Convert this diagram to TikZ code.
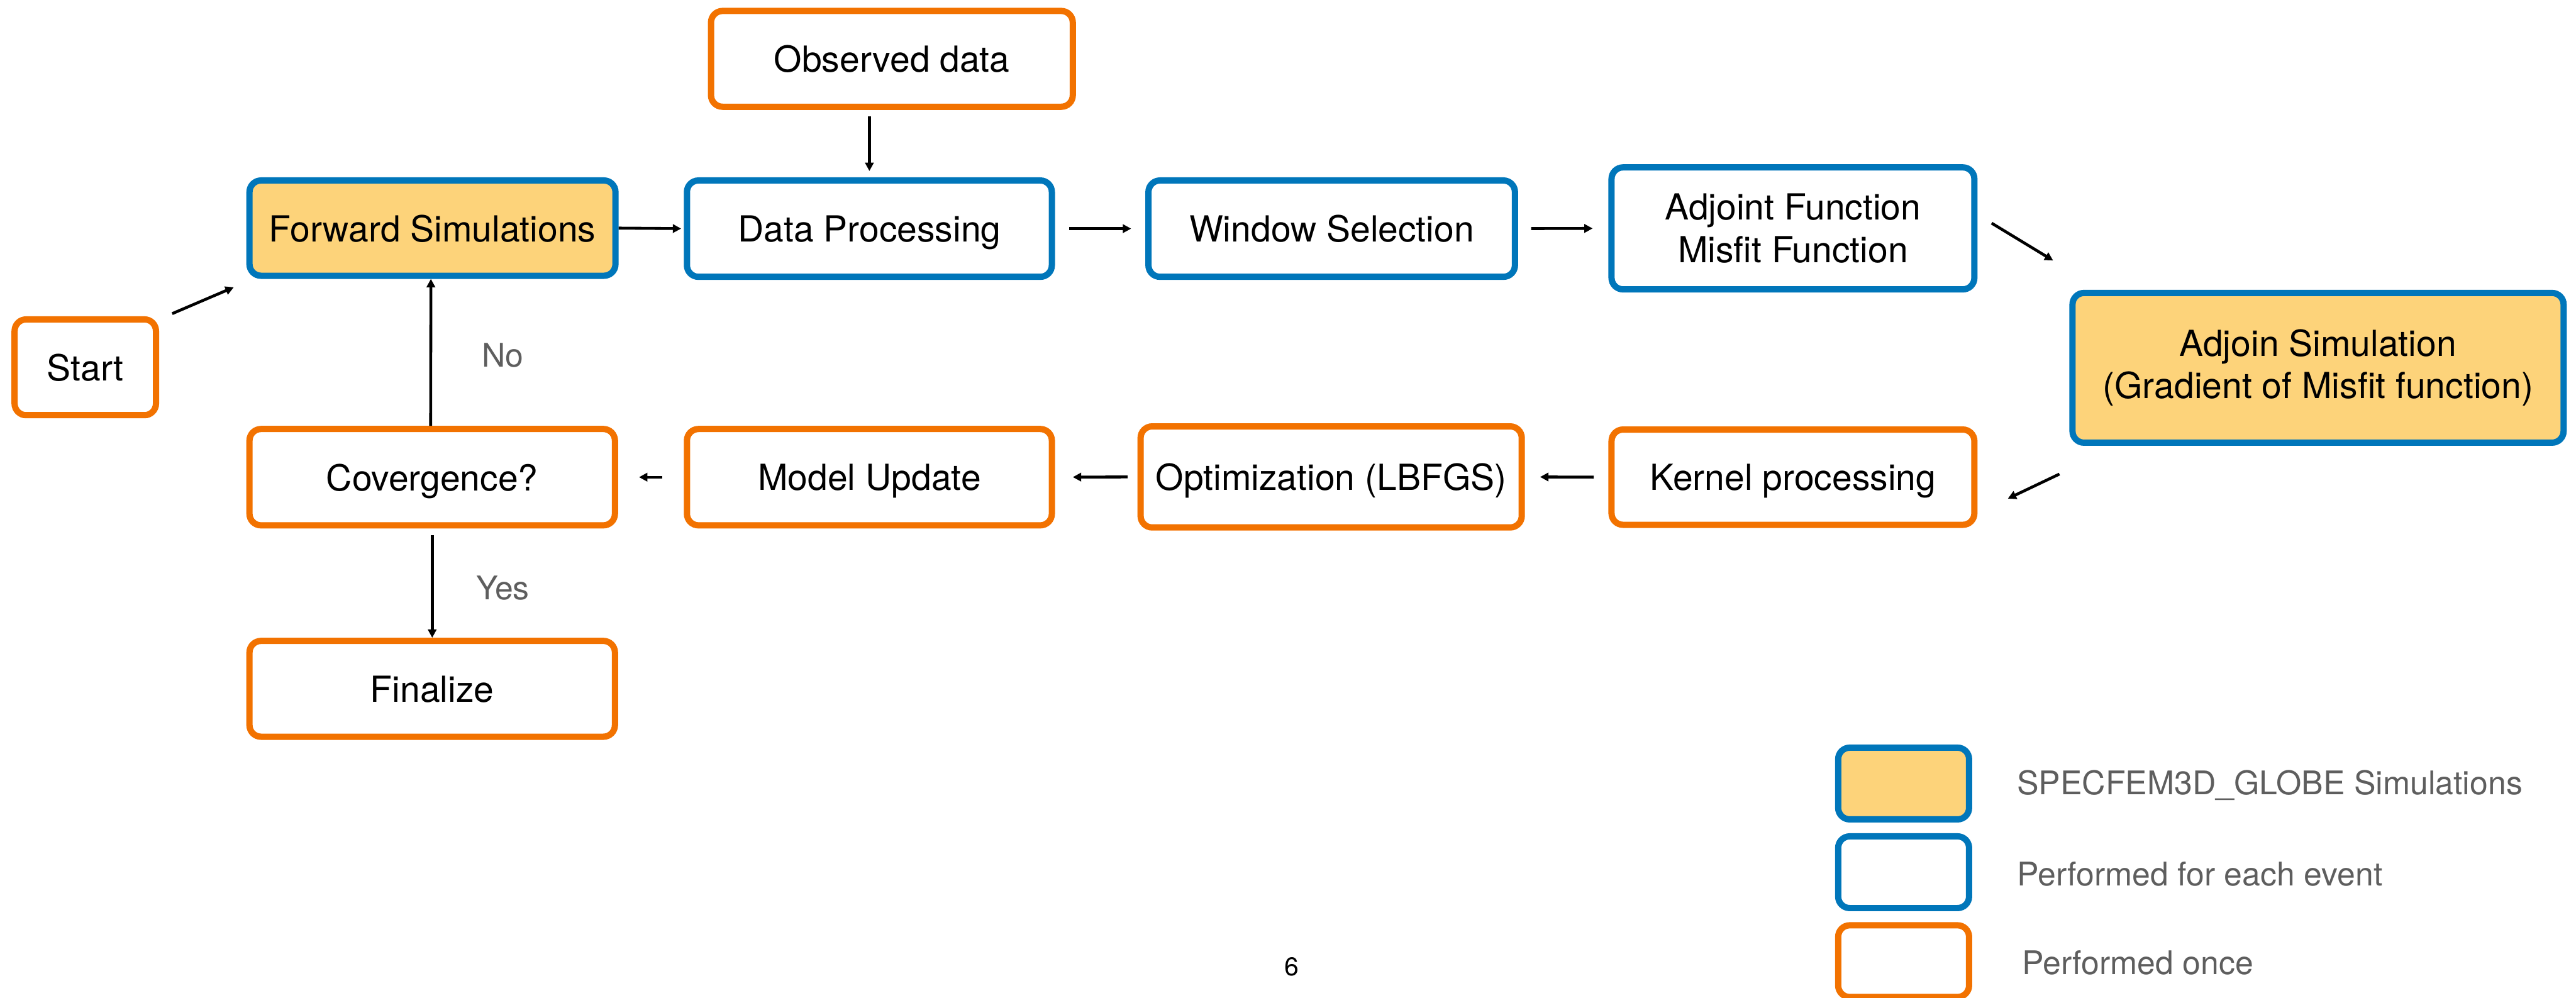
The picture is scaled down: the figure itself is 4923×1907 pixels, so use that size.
\documentclass[tikz,border=0pt]{standalone}
\usepackage{fontspec}
\setmainfont{TeX Gyre Heros}
\usetikzlibrary{arrows.meta}
\definecolor{evtblue}{RGB}{0,118,186}
\definecolor{onceorange}{RGB}{242,114,0}
\definecolor{simfill}{RGB}{253,211,122}
\definecolor{labelgray}{RGB}{94,94,94}
\begin{document}
\begin{tikzpicture}[x=0.01cm,y=-0.01cm]
	\tikzstyle{every node}+=[inner sep=0pt, font=\fontsize{19.5}{23}\selectfont]
	\tikzstyle{box}=[draw, line width=0.12cm, rounded corners=0.22cm, align=center]
	\tikzstyle{oneline}=[text depth=0pt]
	\tikzstyle{simbox}=[box, draw=evtblue, fill=simfill]
	\tikzstyle{eventbox}=[box, draw=evtblue, fill=white]
	\tikzstyle{oncebox}=[box, draw=onceorange, fill=white]
	\tikzstyle{flow}=[line width=0.055cm, -{Triangle[length=0.16cm,width=0.16cm]}]
	\tikzstyle{note}=[text=labelgray, font=\fontsize{17.7}{21}\selectfont]
	\useasboundingbox (0,0) rectangle (4923,1907);
	\node [oncebox, oneline, minimum width=2.70cm, minimum height=1.83cm] (start) at (163,702) {Start};
	\node [simbox, oneline, minimum width=6.99cm, minimum height=1.82cm] (fwd) at (826.5,436) {Forward Simulations};
	\node [oncebox, oneline, minimum width=6.91cm, minimum height=1.83cm] (obs) at (1704.5,112.5) {Observed data};
	\node [eventbox, oneline, minimum width=6.97cm, minimum height=1.84cm] (dp) at (1661.5,437) {Data Processing};
	\node [eventbox, oneline, minimum width=7.00cm, minimum height=1.84cm] (ws) at (2545,437) {Window Selection};
	\node [eventbox, minimum width=6.93cm, minimum height=2.33cm] (af) at (3426.5,436.5) {Adjoint Function\\Misfit Function};
	\node [simbox, minimum width=9.38cm, minimum height=2.86cm] (as) at (4430,703) {Adjoin Simulation\\(Gradient of Misfit function)};
	\node [oncebox, oneline, minimum width=6.93cm, minimum height=1.82cm] (kp) at (3426.5,912) {Kernel processing};
	\node [oncebox, oneline, minimum width=7.28cm, minimum height=1.93cm] (opt) at (2544,911.5) {Optimization (LBFGS)};
	\node [oncebox, oneline, minimum width=6.97cm, minimum height=1.84cm] (mu) at (1661.5,912) {Model Update};
	\node [oncebox, oneline, minimum width=6.98cm, minimum height=1.84cm] (conv) at (826,912) {Covergence?};
	\node [oncebox, oneline, minimum width=6.98cm, minimum height=1.83cm] (fin) at (826,1316.5) {Finalize};
	\node [note] (no) at (961,679) {No};
	\node [note] (yes) at (961,1124) {Yes};
	\draw [flow] ([shift={(25,-5)}]start.north east) -- ([shift={(-24,16)}]fwd.south west);
	\draw [flow, shorten >=0.05cm] (fwd.east) -- (dp.west);
	\draw [flow, shorten <=0.12cm, shorten >=0.12cm] (dp.north |- obs.south) -- (dp.north);
	\draw [flow, shorten <=0.27cm, shorten >=0.27cm] (dp.east) -- (ws.west);
	\draw [flow, shorten <=0.25cm, shorten >=0.30cm] (ws.east) -- (af.west);
	\draw [flow] ([shift={(27,-10)}]af.east) -- ([shift={(-31,-56)}]as.north west);
	\draw [flow] ([shift={(-19,54)}]as.south west) -- ([shift={(58,41)}]kp.east);
	\draw [flow, shorten <=0.28cm, shorten >=0.29cm] (kp.west) -- (opt.east);
	\draw [flow, shorten <=0.19cm, shorten >=0.34cm] (opt.west) -- (mu.east);
	\draw [flow, shorten <=0.41cm, shorten >=0.40cm] (mu.west) -- (conv.east);
	\draw [flow] ([xshift=-0.03cm]conv.north) -- ([xshift=-0.03cm]fwd.south);
	\draw [flow, shorten <=0.13cm] (conv.south) -- (fin.north);
	\node [simbox, minimum width=2.50cm, minimum height=1.37cm] (legsim) at (3638,1497.5) {};
	\node [eventbox, minimum width=2.50cm, minimum height=1.37cm] (legevt) at (3638,1667) {};
	\node [oncebox, minimum width=2.50cm, minimum height=1.37cm] (legonce) at (3638,1837) {};
	\node [note, anchor=west] (legsimtext) at (3854,1501) {SPECFEM3D\_GLOBE Simulations};
	\node [note, anchor=west] (legevttext) at (3854,1671) {Performed for each event};
	\node [note, anchor=west] (legoncetext) at (3864,1840) {Performed once};
	\node [font=\fontsize{14}{17}\selectfont] (pagenum) at (2468,1848) {6};
\end{tikzpicture}
\end{document}
